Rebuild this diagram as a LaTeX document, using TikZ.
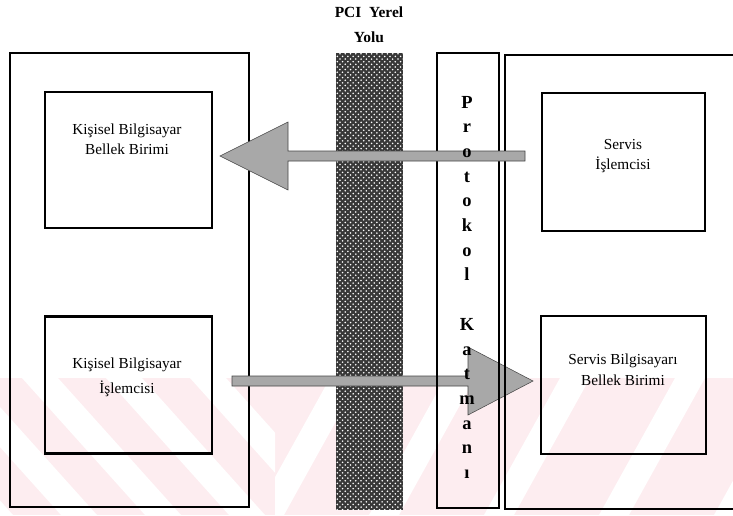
\documentclass[tikz,border=0pt]{standalone}
\usepackage{fontspec}
\setmainfont{Liberation Serif}
\usetikzlibrary{patterns,calc}
\definecolor{wmpink}{HTML}{FDEDF0}
\definecolor{arrowgray}{gray}{0.66}
\begin{document}
\begin{tikzpicture}[x=0.02cm,y=-0.02cm,
  frame/.style={draw=black,line width=1.1pt},
  unitbox/.style={draw=black,line width=1.2pt,inner sep=0pt,outer sep=0pt},
  lbl/.style={font=\fontsize{8.7}{10}\selectfont,anchor=base,inner sep=0pt},
  layer/.style={font=\fontsize{10.5}{12}\selectfont\bfseries,anchor=base,inner sep=0pt},
  title/.style={font=\fontsize{8.8}{10}\selectfont\bfseries,anchor=base,inner sep=0pt},
  blockarrow/.style={fill=arrowgray,draw=gray!55!black,line width=0.3pt,line join=miter}]

% page area
\path[use as bounding box] (0,0) rectangle (733,515);
\clip (0,0) rectangle (733,515);

% faint striped background along the bottom
\fill[wmpink] (0,378) rectangle (733,515);
\begin{scope}
  \clip (0,378) rectangle (275,515);
  \foreach \s in {-146,-62,22,106,190}
    \fill[white] (\s,378) -- ++(36,0) -- ++(123,137) -- ++(-36,0) -- cycle;
\end{scope}
\begin{scope}
  \clip (275,378) rectangle (733,515);
  \foreach \s in {330,445,560,675,790}
    \fill[white] (\s,378) -- ++(30,0) -- ++(-76,137) -- ++(-30,0) -- cycle;
\end{scope}

% PCI local bus
\fill[black!78] (336,53) rectangle (403,510);
\fill[pattern=crosshatch dots,pattern color=white] (336,53) rectangle (403,510);
\node[title] (busA) at (369,17) {PCI\ \ Yerel};
\node[title] (busB) at (369,42) {Yolu};

% personal computer side
\draw[frame] (10,53) rectangle (249,507);
\node[unitbox,minimum width=3.34cm,minimum height=2.72cm] (pcmem) at (128.5,160) {};
\node[unitbox,minimum width=3.34cm,minimum height=2.74cm] (pccpu) at (128.5,385) {};
\node[lbl] (pcmemA) at (127,134) {Kişisel Bilgisayar};
\node[lbl] (pcmemB) at (127,154) {Bellek Birimi};
\node[lbl] (pccpuA) at (127,368) {Kişisel Bilgisayar};
\node[lbl] (pccpuB) at (127,393) {İşlemcisi};

% processor to service memory
\coordinate (a2tail) at (232,381);
\coordinate (a2tip) at (533,381);
\draw[blockarrow] (a2tip) -- ($(a2tip)+(-65,-34)$) -- ($(a2tip)+(-65,-5)$)
  -- ($(a2tail)+(0,-5)$) -- ($(a2tail)+(0,5)$) -- ($(a2tip)+(-65,5)$)
  -- ($(a2tip)+(-65,34)$) -- cycle;

% protocol layer and service computer side
\draw[frame] (437,53) rectangle (499,508);
\draw[frame] (745,55) -- (505,55) -- (505,509) -- (745,509);
\node[unitbox,minimum width=3.26cm,minimum height=2.76cm] (svcpu) at (623.5,162) {};
\node[unitbox,minimum width=3.30cm,minimum height=2.76cm] (svmem) at (623.5,385) {};
\node[lbl] (svcpuA) at (623,149) {Servis};
\node[lbl] (svcpuB) at (623,169) {İşlemcisi};
\node[lbl] (svmemA) at (623,364) {Servis Bilgisayarı};
\node[lbl] (svmemB) at (623,385) {Bellek Birimi};

% service processor to personal computer memory
\coordinate (a1tail) at (525,156);
\coordinate (a1tip) at (220,156);
\draw[blockarrow] (a1tip) -- ($(a1tip)+(68,-34)$) -- ($(a1tip)+(68,-5)$)
  -- ($(a1tail)+(0,-5)$) -- ($(a1tail)+(0,5)$) -- ($(a1tip)+(68,5)$)
  -- ($(a1tip)+(68,34)$) -- cycle;

% vertical caption of the protocol layer
\foreach \c [count=\i from 0] in {P,r,o,t,o,k,o,l,{},K,a,t,m,a,n,ı}
  \node[layer] (pl\i) at (467,{108+24.7*\i}) {\c};
\end{tikzpicture}
\end{document}
